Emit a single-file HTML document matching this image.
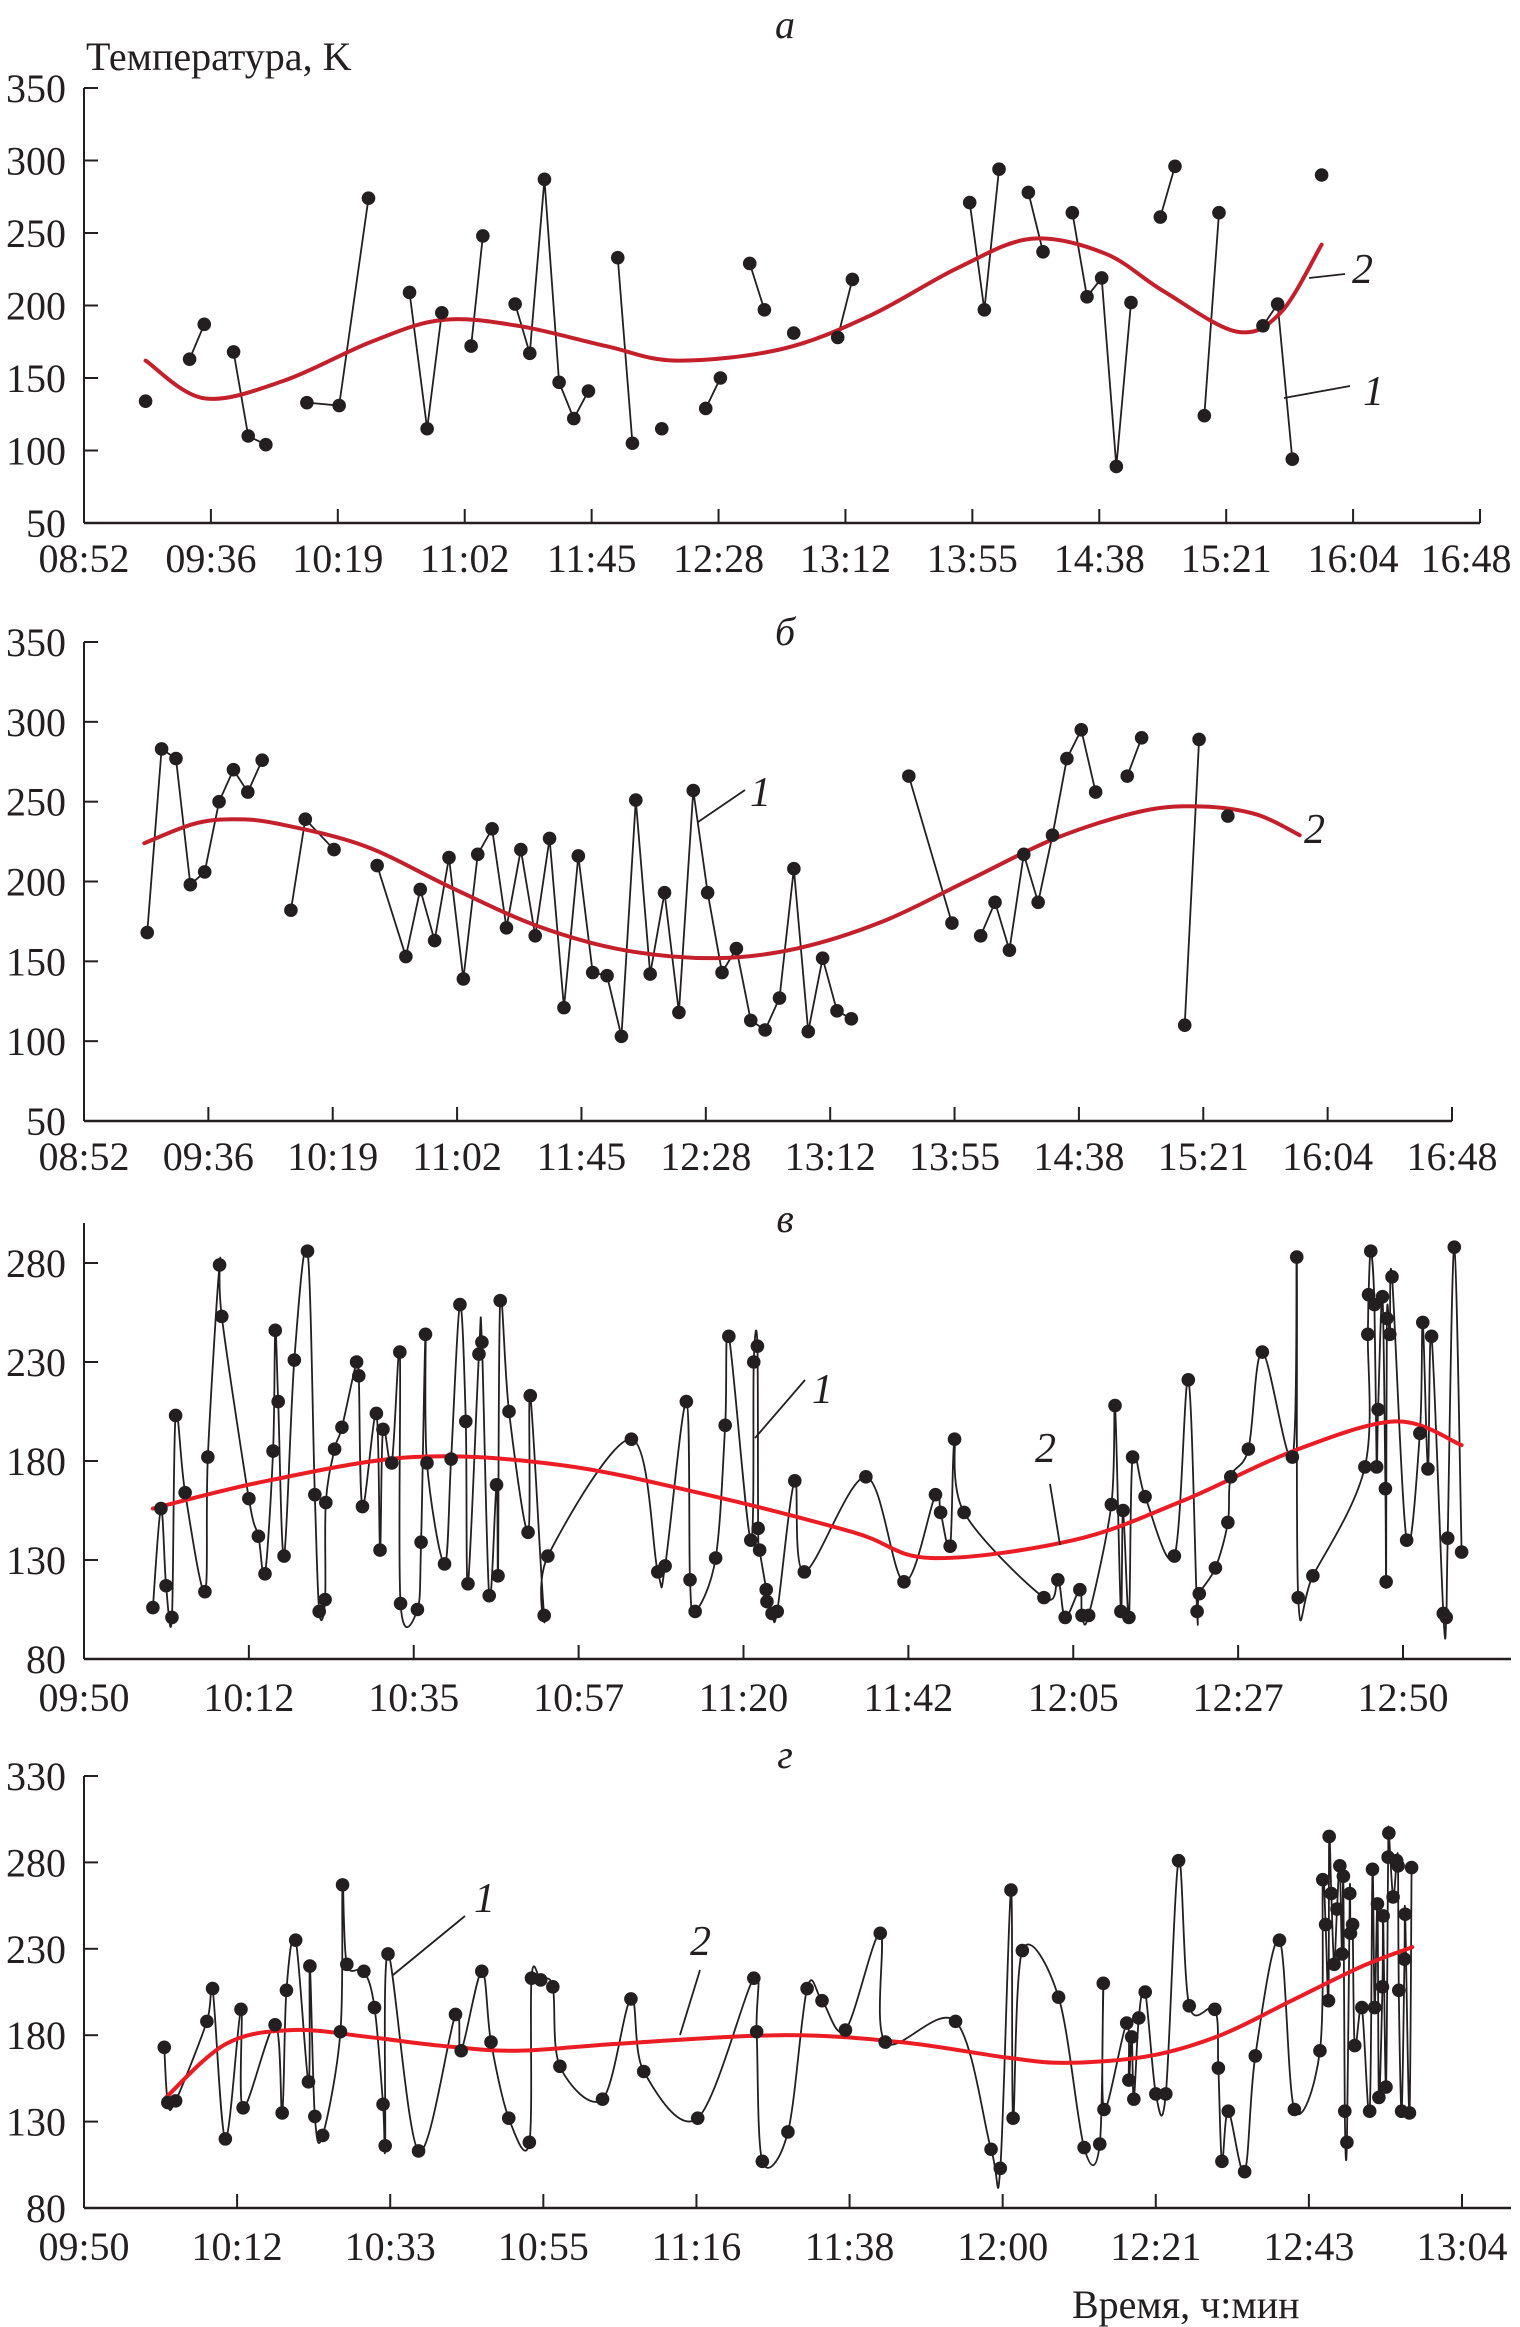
<!DOCTYPE html>
<html><head><meta charset="utf-8"><title>Температура</title>
<style>
html,body{margin:0;padding:0;background:#fff;}
svg{display:block;}
text{font-family:"Liberation Serif","DejaVu Serif",serif;fill:#231f20;}
</style></head>
<body>
<svg id="chart" width="1520" height="2327" viewBox="0 0 1520 2327" xmlns="http://www.w3.org/2000/svg"></svg>
<script>
// ---------- Panel a (minutes of day) ----------
const timesA = [553,null,568,573,null,583,588,594,null,608,619,629,null,643,649,654,null,664,668,null,679,684,689,694,699,704,null,714,719,null,729,null,744,749,null,759,764,null,774,null,789,794,null,834,839,844,null,854,859,null,869,874,879,884,889,null,899,904,null,914,919,null,934,939,944,null,954];
const tempsA = [134,null,163,187,null,168,110,104,null,133,131,274,null,209,115,195,null,172,248,null,201,167,287,147,122,141,null,233,105,null,115,null,129,150,null,229,197,null,181,null,178,218,null,271,197,294,null,278,237,null,264,206,219,89,202,null,261,296,null,124,264,null,186,201,94,null,290];
const fitTimesA = [553,573,600,630,654,680,710,734,770,800,830,855,880,900,925,940,954];
const fitTempsA = [162,136,148,175,190,186,172,162,170,193,226,246,236,210,182,195,242];
const tickLabelsA = ["08:52","09:36","10:19","11:02","11:45","12:28","13:12","13:55","14:38","15:21","16:04","16:48"];
const yTicksA = [50,100,150,200,250,300,350];

// ---------- Panel б ----------
const timesB = [554,559,564,569,574,579,584,589,594,null,604,609,619,null,634,644,649,654,659,664,669,674,679,684,689,694,699,704,709,714,719,724,729,734,739,744,749,754,759,764,769,774,779,784,789,794,799,null,819,834,null,844,849,854,859,864,869,874,879,884,null,895,900,null,915,920,null,930];
const tempsB = [168,283,277,198,206,250,270,256,276,null,182,239,220,null,210,153,195,163,215,139,217,233,171,220,166,227,121,216,143,141,103,251,142,193,118,257,193,143,158,113,107,127,208,106,152,119,114,null,266,174,null,166,187,157,217,187,229,277,295,256,null,266,290,null,110,289,null,241];
const fitTimesB = [553,570,584,600,630,660,690,720,752,780,810,840,870,900,921,940,955];
const fitTempsB = [224,236,239,236,222,196,172,157,152,158,175,201,227,244,247,242,229];
const tickLabelsB = tickLabelsA;
const yTicksB = [50,100,150,200,250,300,350];

// ---------- Panel в (minutes after 09:50) ----------
const timesC = [9.4,10.5,11.2,12.0,12.5,13.8,16.5,16.9,18.5,18.8,22.5,23.8,24.7,25.8,26.1,26.5,27.3,28.7,30.5,31.5,32.1,32.9,33.0,34.2,35.2,37.2,37.5,38.0,39.9,40.4,40.8,42.0,43.1,43.2,45.5,46.0,46.6,46.8,49.2,50.1,51.3,52.1,52.4,53.9,54.3,55.3,56.3,56.5,56.8,58.0,60.6,60.9,62.8,63.3,74.7,78.3,79.3,82.2,82.7,83.4,86.2,87.5,88.0,91.0,91.4,91.9,92.0,92.2,93.1,93.2,93.9,94.6,97.0,98.3,106.7,111.9,116.2,116.9,118.2,118.8,120.1,131.0,132.9,133.9,135.9,136.2,137.1,140.2,140.7,141.5,141.8,142.6,143.1,144.8,148.8,150.7,151.9,152.2,154.4,156.1,156.5,158.9,160.8,164.9,165.5,165.7,167.7,174.8,175.2,175.3,175.6,176.1,176.4,176.6,177.2,177.6,177.7,177.8,178.2,178.5,180.5,182.3,182.7,183.4,183.9,185.5,185.9,186.1,187.0,188.0];
const tempsC = [106,156,117,101,203,164,114,182,279,253,161,142,123,185,246,210,132,231,286,163,104,110,159,186,197,230,223,157,204,135,196,179,235,108,105,139,244,179,128,181,259,200,118,234,240,112,168,122,261,205,144,213,102,132,191,124,127,210,120,104,131,198,243,140,230,238,146,135,115,109,103,104,170,124,172,119,163,154,137,191,154,111,120,101,115,102,102,158,208,104,155,101,182,162,132,221,104,113,126,149,172,186,235,182,283,111,122,177,244,264,286,259,177,206,263,166,119,252,244,273,140,194,250,176,243,103,101,141,288,134];
const fitTimesC = [9.4,25,45,65,85,105,115.6,135,150,165,179,188];
const fitTempsC = [156,170,182,178,163,144,131,140,160,185,200,188];
const tickLabelsC = ["09:50","10:12","10:35","10:57","11:20","11:42","12:05","12:27","12:50"];
const yTicksC = [80,130,180,230,280];

// ---------- Panel г (minutes after 09:50) ----------
const timesD = [11.3,11.8,12.9,17.3,18.1,19.9,22.1,22.4,26.9,27.9,28.5,29.8,31.6,31.8,32.5,33.6,36.1,36.4,37.0,39.4,40.9,42.1,42.4,42.8,47.1,52.3,53.1,56.0,57.3,59.8,62.7,63.0,64.3,66.0,67.0,73.0,77.0,78.8,86.4,94.3,94.7,95.5,99.1,101.8,103.9,107.2,112.1,112.8,122.7,127.7,129.0,130.5,130.8,132.1,137.2,140.8,143.0,143.5,143.6,146.8,147.1,147.5,147.8,148.5,149.4,150.9,152.3,154.1,155.6,159.2,159.7,160.2,161.1,163.4,164.9,168.3,170.4,174.0,174.4,174.8,175.2,175.3,175.6,176.0,176.4,176.8,177.1,177.3,177.5,177.8,178.2,178.3,178.6,178.9,179.9,181.0,181.4,181.7,182.1,182.3,182.8,182.9,183.3,183.6,183.7,184.3,184.8,185.0,185.1,185.5,185.9,186.0,186.6,186.9];
const tempsD = [173,141,142,188,207,120,195,138,186,135,206,235,153,220,133,122,182,267,221,217,196,140,116,227,113,192,171,217,176,132,118,213,212,208,162,143,201,159,132,213,182,107,124,207,200,183,239,176,188,114,103,264,132,229,202,115,117,210,137,187,154,179,143,190,205,146,146,281,197,195,161,107,136,101,168,235,137,171,270,244,200,295,262,221,253,278,227,272,136,118,262,239,244,174,196,136,276,196,256,144,208,249,150,283,297,260,281,278,206,136,224,250,135,277];
const fitTimesD = [11.3,20,29.4,40,50,60.9,75,98,115,130,138.4,150,160,170,180,187];
const fitTempsD = [143,175,183,179,174,171,175,180,176,167,164,168,180,200,220,231];
const tickLabelsD = ["09:50","10:12","10:33","10:55","11:16","11:38","12:00","12:21","12:43","13:04"];
const yTicksD = [80,130,180,230,280,330];

const svg = document.getElementById('chart');
const NS = 'http://www.w3.org/2000/svg';
function mk(tag, attrs, parent){
  const e = document.createElementNS(NS, tag);
  for (const k in attrs) e.setAttribute(k, attrs[k]);
  (parent||svg).appendChild(e);
  return e;
}
function smoothPath(pts){
  if (pts.length < 2) return '';
  let d = 'M' + pts[0][0] + ',' + pts[0][1];
  for (let i=0;i<pts.length-1;i++){
    const p0 = pts[i-1]||pts[i], p1 = pts[i], p2 = pts[i+1], p3 = pts[i+2]||p2;
    const c1x = p1[0]+(p2[0]-p0[0])/6, c1y = p1[1]+(p2[1]-p0[1])/6;
    const c2x = p2[0]-(p3[0]-p1[0])/6, c2y = p2[1]-(p3[1]-p1[1])/6;
    d += ' C'+c1x+','+c1y+' '+c2x+','+c2y+' '+p2[0]+','+p2[1];
  }
  return d;
}
function linePath(pts){ return pts.map((p,i)=>(i?'L':'M')+p[0]+','+p[1]).join(' '); }

function panel(cfg, times, temps, fitT, fitV, tickLabels, yTicks){
  const g = mk('g', {});
  
  
  const sx = t => cfg.x0 + (t - cfg.t0) / (cfg.t1 - cfg.t0) * (cfg.x1 - cfg.x0);
  const sy = v => cfg.yb + (v - cfg.v0) / (cfg.v1 - cfg.v0) * (cfg.yt - cfg.yb);
  const ya = mk('line', {x1:cfg.x0, y1:cfg.yTop, x2:cfg.x0, y2:cfg.yb, stroke:'#231f20','stroke-width':2}, g);
  
  
  const xa = mk('line', {x1:cfg.x0, y1:cfg.yb, x2:cfg.xEnd, y2:cfg.yb, stroke:'#231f20','stroke-width':2.5}, g);
  
  
  yTicks.forEach(v=>{
    const y = sy(v);
    if (v !== cfg.v0) {
      const tk = mk('line', {x1:cfg.x0, y1:y, x2:cfg.x0+14, y2:y, stroke:'#231f20','stroke-width':2}, g);
      
      
    }
    const tl = mk('text', {x:66, y:y+14, 'text-anchor':'end','font-size':40}, g);
    tl.textContent = v;
    
    
  });
  tickLabels.forEach((lab,i)=>{
    const t = cfg.t0 + i*(cfg.t1-cfg.t0)/(tickLabels.length-1);
    const x = sx(t);
    if (i>0) {
      const tk = mk('line', {x1:x, y1:cfg.yb, x2:x, y2:cfg.yb-14, stroke:'#231f20','stroke-width':2}, g);
      
      
    }
    const tl = mk('text', {x:Math.min(x, 1466), y:cfg.labY, 'text-anchor':'middle','font-size':40}, g);
    tl.textContent = lab;
    
    
  });
  let seg = [], segs = [];
  for (let i=0;i<times.length;i++){
    if (times[i]===null || temps[i]===null){ if (seg.length) segs.push(seg); seg=[]; }
    else seg.push([sx(times[i]), sy(temps[i])]);
  }
  if (seg.length) segs.push(seg);
  segs.forEach(s=>{
    if (s.length>1){
      const p = mk('path', {d: cfg.smooth ? smoothPath(s) : linePath(s), fill:'none', stroke:'#231f20','stroke-width':1.8,'stroke-linejoin':'round'}, g);
      
      
    }
  });
  const fp = fitT.map((t,i)=>[sx(t), sy(fitV[i])]);
  const f = mk('path', {d: smoothPath(fp), fill:'none', stroke:cfg.red,'stroke-width':4,'stroke-linecap':'round'}, g);
  
  
  for (let i=0;i<times.length;i++){
    if (times[i]===null || temps[i]===null) continue;
    const c = mk('circle', {cx:sx(times[i]), cy:sy(temps[i]), r:6.8, fill:'#231f20'}, g);
    
    
  }
  const tt = mk('text', {x:785, y:cfg.titleY, 'text-anchor':'middle','font-size':40,'font-style':'italic'}, g);
  tt.textContent = cfg.title;
  
  
  cfg.labels.forEach(L=>{
    if (L.lx1 !== undefined) {
      const ll = mk('line', {x1:L.lx1, y1:L.ly1, x2:L.lx2, y2:L.ly2, stroke:'#231f20','stroke-width':1.8}, g);
      
      
    }
    const lt = mk('text', {x:L.x, y:L.y, 'font-size':42,'font-style':'italic'}, g);
    lt.textContent = L.t;
    
    
  });
}

panel({name:'panel-a', title:'а', titleY:38, x0:84, x1:1480, xEnd:1480, t0:532, t1:1008, yb:523, yt:88, v0:50, v1:350, yTop:88, labY:572, smooth:false, red:'#c4202c',
  labels:[{t:'2',x:1352,y:283,lx1:1309,ly1:278,lx2:1345,ly2:274},{t:'1',x:1363,y:405,lx1:1284,ly1:398,lx2:1350,ly2:386}]},
  timesA, tempsA, fitTimesA, fitTempsA, tickLabelsA, yTicksA);

panel({name:'panel-b', title:'б', titleY:645, x0:84, x1:1452, xEnd:1452, t0:532, t1:1008, yb:1121, yt:642, v0:50, v1:350, yTop:642, labY:1170, smooth:false, red:'#c4202c',
  labels:[{t:'1',x:750,y:806,lx1:698,ly1:822,lx2:745,ly2:790},{t:'2',x:1304,y:843}]},
  timesB, tempsB, fitTimesB, fitTempsB, tickLabelsB, yTicksB);

panel({name:'panel-c', title:'в', titleY:1232, x0:84, x1:1403, xEnd:1511, t0:0, t1:180, yb:1659, yt:1263, v0:80, v1:280, yTop:1223, labY:1711, smooth:true, red:'#ec1c24',
  labels:[{t:'1',x:812,y:1403,lx1:755,ly1:1438,lx2:805,ly2:1380},{t:'2',x:1035,y:1462,lx1:1050,ly1:1484,lx2:1060,ly2:1545}]},
  timesC, tempsC, fitTimesC, fitTempsC, tickLabelsC, yTicksC);

panel({name:'panel-d', title:'г', titleY:1768, x0:84, x1:1462, xEnd:1511, t0:0, t1:194, yb:2208, yt:1776, v0:80, v1:330, yTop:1776, labY:2260, smooth:true, red:'#ec1c24',
  labels:[{t:'1',x:474,y:1912,lx1:393,ly1:1975,lx2:465,ly2:1916},{t:'2',x:690,y:1955,lx1:700,ly1:1970,lx2:680,ly2:2035}]},
  timesD, tempsD, fitTimesD, fitTempsD, tickLabelsD, yTicksD);

const yTitle = mk('text', {x:86, y:70, 'font-size':40});
yTitle.textContent = 'Температура, K';


const xTitle = mk('text', {x:1072, y:2318, 'font-size':40});
xTitle.textContent = 'Время, ч:мин';


</script>
</body></html>
